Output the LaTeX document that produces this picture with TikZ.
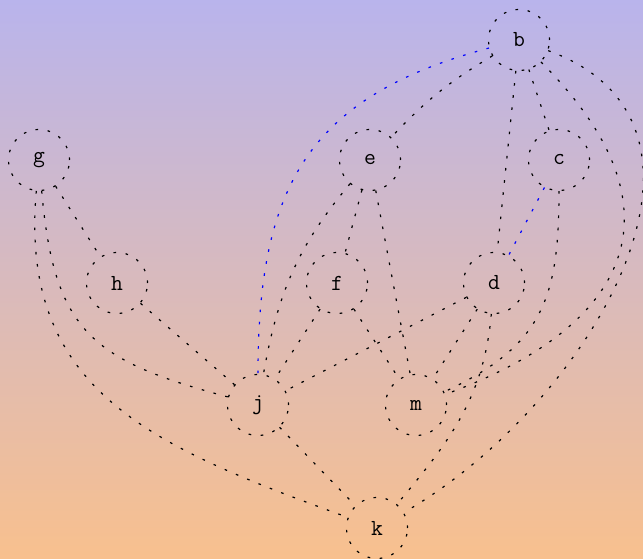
\documentclass[tikz,border=0pt]{standalone}
\definecolor{SkyTop}{RGB}{185,180,236}
\definecolor{SkyBottom}{RGB}{248,192,142}
\definecolor{EdgeBlue}{RGB}{0,0,255}
\begin{document}
\begin{tikzpicture}[x=1pt,y=-1pt,
    edg/.style={black,line width=1.2pt,dash pattern=on 2.6pt off 9.6pt},
    blu/.style={edg,EdgeBlue},
    nd/.style={circle,edg,draw=black,minimum size=61pt,inner sep=0pt,
               font=\ttfamily\fontsize{23}{25}\selectfont}
  ]
    \shade[top color=SkyTop,bottom color=SkyBottom] (0,0) rectangle (643,559);
    \useasboundingbox (0,0) rectangle (643,559);
    \node[nd] (b) at (519,40) {b};
    \node[nd] (g) at (39,160) {g};
    \node[nd] (e) at (370,160) {e};
    \node[nd] (c) at (559,160) {c};
    \node[nd] (h) at (117,283) {h};
    \node[nd] (f) at (337,283) {f};
    \node[nd] (d) at (494,283) {d};
    \node[nd] (j) at (258,405) {j};
    \node[nd] (m) at (416,405) {m};
    \node[nd] (k) at (377,528) {k};
    \draw[edg] (b) to[bend right=8] (e);
    \draw[blu] (b) to[out=195,in=90,looseness=1.2] (j);
    \draw[edg] (b) -- (c);
    \draw[edg] (b) -- (d);
    \draw[edg] (b) to[out=-45,in=20,looseness=1.5] (m);
    \draw[edg] (b) to[out=-20,in=30,looseness=1.15] (k);
    \draw[edg] (g) -- (h);
    \draw[edg] (g) to[out=-85,in=165,looseness=1.3] (j);
    \draw[edg] (g) to[out=-95,in=160,looseness=1.15] (k);
    \draw[edg] (h) -- (j);
    \draw[edg] (e) to[out=230,in=80] (j);
    \draw[edg] (e) -- (f);
    \draw[edg] (e) -- (m);
    \draw[blu] (c) -- (d);
    \draw[edg] (c) to[out=-90,in=25,looseness=1.2] (m);
    \draw[edg] (f) -- (j);
    \draw[edg] (f) -- (m);
    \draw[edg] (d) -- (j);
    \draw[edg] (d) -- (m);
    \draw[edg] (d) to[out=-95,in=50] (k);
    \draw[edg] (j) -- (k);
  \end{tikzpicture}
\end{document}
